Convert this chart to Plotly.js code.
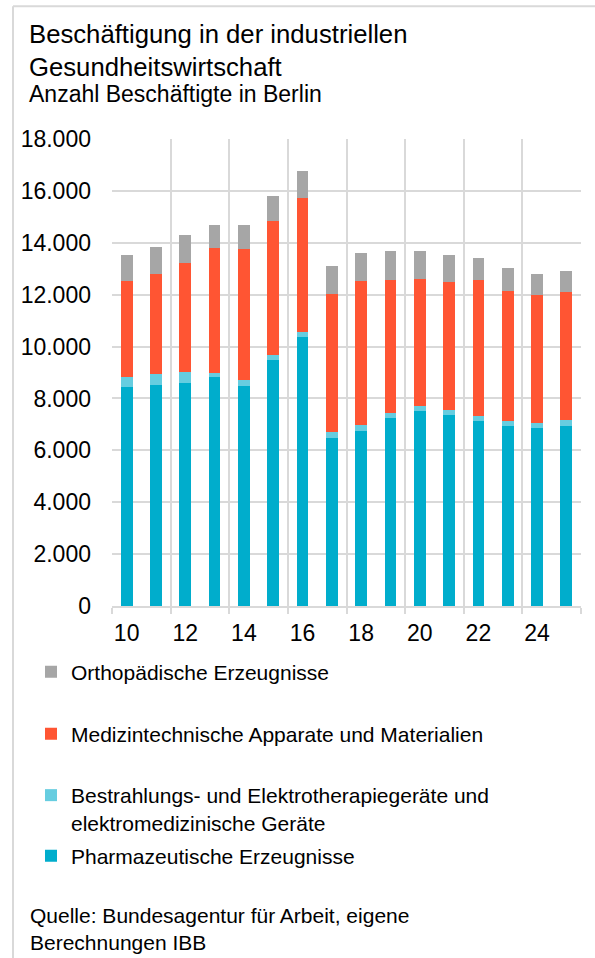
<!DOCTYPE html>
<html>
<head>
<meta charset="utf-8">
<script src="https://cdn.plot.ly/plotly-3.0.1.min.js"></script>
<style>
  html, body { margin: 0; padding: 0; background: #fff; }
</style>
</head>
<body>
<div id="chart" style="width:595px;height:958px;"></div>
<script>
// Jahre (Kurzform) und Beschäftigte je Bereich
const years = [10, 11, 12, 13, 14, 15, 16, 17, 18, 19, 20, 21, 22, 23, 24, 25];
const tickYears = [10, 12, 14, 16, 18, 20, 22, 24];
const tickLabels = ['10', '12', '14', '16', '18', '20', '22', '24'];

const pharma  = [8460, 8530, 8580, 8840, 8480, 9500, 10380, 6490, 6760, 7230, 7500, 7350, 7120, 6950, 6850, 6950];
const bestr   = [370, 420, 450, 160, 250, 180, 190, 220, 230, 220, 220, 190, 190, 190, 210, 220];
const medizin = [3710, 3850, 4180, 4790, 5030, 5170, 5170, 5330, 5540, 5130, 4900, 4940, 5240, 5020, 4920, 4920];
const ortho   = [990, 1050, 1080, 890, 940, 950, 1040, 1050, 1080, 1120, 1080, 1050, 870, 870, 800, 820];

const names = [
  'Pharmazeutische Erzeugnisse',
  'Bestrahlungs- und Elektrotherapiegeräte und<br>elektromedizinische Geräte',
  'Medizintechnische Apparate und Materialien',
  'Orthopädische Erzeugnisse'
];
const colors = ['#00adcc', '#66cde0', '#ff5533', '#a6a6a6'];

const FONT = 'Liberation Sans, Arial, sans-serif';
const GRID = '#d9d9d9';

// Plotbereich in Pixeln
const W = 595, H = 958;
const plotL = 112, plotR = 581, plotT = 139, plotB = 606.5;
const px2paperX = x => (x - plotL) / (plotR - plotL);
const px2paperY = y => (plotB - y) / (plotB - plotT);

const series = [pharma, bestr, medizin, ortho];
const legendIds = ['legend', 'legend2', 'legend3', 'legend4'];

const data = series.map((vals, i) => ({
  type: 'bar',
  x: years,
  y: vals,
  name: names[i],
  marker: { color: colors[i], line: { width: 0 } },
  legend: legendIds[i],
  hoverinfo: 'skip'
}));

// jede Legende einzeln platziert (Mitte der Zeile in Pixeln)
const legendRows = [856, 809, 734, 672];
function makeLegend(rowY) {
  return {
    xref: 'container', yref: 'container',
    x: 31 / W, xanchor: 'left',
    y: 1 - rowY / H, yanchor: 'middle',
    bgcolor: 'rgba(0,0,0,0)',
    font: { family: FONT, size: 21, color: '#000' },
    valign: 'top',
    itemwidth: 30,
    itemclick: false
  };
}

const layout = {
  width: W,
  height: H,
  margin: { l: plotL, r: W - plotR, t: plotT, b: H - plotB, pad: 0, autoexpand: false },
  paper_bgcolor: '#fff',
  plot_bgcolor: '#fff',
  font: { family: FONT, size: 21, color: '#000' },
  separators: ',.',
  barmode: 'stack',
  bargap: 0.6,
  showlegend: true,
  title: {
    text: 'Beschäftigung in der industriellen<br>Gesundheitswirtschaft',
    font: { family: FONT, size: 25.7, color: '#000' },
    xref: 'container', yref: 'container',
    x: 29 / W, xanchor: 'left',
    y: 1 - 43 / H, yanchor: 'top'
  },
  xaxis: {
    type: 'linear',
    range: [years[0] - 0.5, years[years.length - 1] + 0.5],
    tickmode: 'array',
    tickvals: tickYears,
    ticktext: tickLabels,
    ticks: '',
    ticklabelstandoff: 5,
    showgrid: false,
    zeroline: false,
    showline: true,
    linecolor: GRID,
    linewidth: 2,
    tickfont: { family: FONT, size: 23, color: '#000' },
    minor: {
      tickmode: 'array',
      tickvals: years.filter((y, i) => i % 2 === 0).map(y => y - 0.5).concat([years[years.length - 1] + 0.5]),
      ticks: 'outside',
      ticklen: 6,
      tickwidth: 2,
      tickcolor: GRID,
      showgrid: true,
      gridcolor: GRID,
      gridwidth: 2
    },
    fixedrange: true
  },
  yaxis: {
    range: [0, 18000],
    tickmode: 'linear',
    tick0: 0,
    dtick: 2000,
    tickformat: ',d',
    showgrid: true,
    gridcolor: GRID,
    gridwidth: 2,
    zeroline: false,
    ticks: '',
    ticklabelstandoff: 20,
    tickfont: { family: FONT, size: 23, color: '#000' },
    fixedrange: true
  },
  annotations: [
    {
      xref: 'paper', yref: 'paper',
      x: px2paperX(27), xanchor: 'left',
      y: px2paperY(104), yanchor: 'bottom',
      yshift: -5,
      align: 'left',
      showarrow: false,
      text: 'Anzahl Beschäftigte in Berlin',
      font: { family: FONT, size: 23, color: '#000' }
    },
    {
      xref: 'paper', yref: 'paper',
      x: px2paperX(28), xanchor: 'left',
      y: px2paperY(903), yanchor: 'top',
      align: 'left',
      showarrow: false,
      text: 'Quelle: Bundesagentur für Arbeit, eigene<br>Berechnungen IBB',
      font: { family: FONT, size: 21, color: '#000' }
    }
  ],
  // dünner Rahmen links und oben
  shapes: [
    {
      type: 'line', xref: 'paper', yref: 'paper',
      x0: px2paperX(13), x1: px2paperX(13),
      y0: px2paperY(6), y1: px2paperY(H + 5),
      line: { color: GRID, width: 2 }
    },
    {
      type: 'line', xref: 'paper', yref: 'paper',
      x0: px2paperX(13), x1: px2paperX(W + 5),
      y0: px2paperY(6), y1: px2paperY(6),
      line: { color: GRID, width: 2 }
    }
  ]
};

legendIds.forEach((id, i) => { layout[id] = makeLegend(legendRows[i]); });

Plotly.newPlot('chart', data, layout, { displayModeBar: false, staticPlot: true });
</script>
</body>
</html>
